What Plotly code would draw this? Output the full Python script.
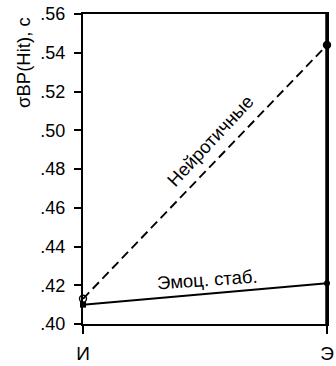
import plotly.graph_objects as go

# Conditions on the x axis
conditions = ["И", "Э"]
# Standard deviation of reaction time (Hit), seconds
neurotic = [0.413, 0.544]
stable = [0.410, 0.421]

y_ticks = [0.40, 0.42, 0.44, 0.46, 0.48, 0.50, 0.52, 0.54, 0.56]
y_tick_text = [".40", ".42", ".44", ".46", ".48", ".50", ".52", ".54", ".56"]

FONT = "Liberation Sans, Arial, sans-serif"
x_pos = list(range(len(conditions)))

fig = go.Figure()
fig.add_trace(go.Scatter(
    x=x_pos, y=neurotic, mode="lines+markers",
    line=dict(color="black", width=1.9, dash="9px,5px"),
    marker=dict(symbol=["circle-open", "circle"], size=7, color="black",
                line=dict(width=1.4, color="black")),
    cliponaxis=False, showlegend=False,
))
fig.add_trace(go.Scatter(
    x=x_pos, y=stable, mode="lines+markers",
    line=dict(color="black", width=2),
    marker=dict(symbol=["square", "circle"], size=6, color="black"),
    cliponaxis=False, showlegend=False,
))

fig.add_annotation(x=0.522, y=0.4947, text="Нейротичные", showarrow=False,
                   textangle=-47, font=dict(family=FONT, size=18.5, color="black"))
fig.add_annotation(x=0.512, y=0.4231, text="Эмоц. стаб.", showarrow=False,
                   textangle=-4, font=dict(family=FONT, size=18.5, color="black"))

# y-axis title, placed toward the top of the axis
fig.add_annotation(xref="paper", yref="paper", x=-0.245, y=0.843,
                   xanchor="center", yanchor="middle", text="σBP(Hit), c",
                   showarrow=False, textangle=-90,
                   font=dict(family=FONT, size=18.5, color="black"))

# heavier right-hand frame edge
fig.add_shape(type="line", xref="x", yref="paper", x0=1, x1=1, y0=0, y1=1,
              line=dict(color="black", width=3.5))

fig.update_xaxes(
    range=[0, 1], tickvals=x_pos, ticktext=conditions,
    showline=True, linecolor="black", linewidth=2, mirror=True,
    ticks="outside", ticklen=8, tickwidth=2, tickcolor="black",
    ticklabelstandoff=3,
    showgrid=False, zeroline=False, ticklabeloverflow="allow",
    tickfont=dict(family=FONT, size=19, color="black"),
)
fig.update_yaxes(
    range=[0.40, 0.56], tickvals=y_ticks, ticktext=y_tick_text,
    showline=True, linecolor="black", linewidth=2, mirror=True,
    ticks="outside", ticklen=7, tickwidth=2, tickcolor="black",
    ticklabelstandoff=5,
    showgrid=False, zeroline=False,
    tickfont=dict(family=FONT, size=18, color="black"),
)

fig.update_layout(
    width=336, height=366,
    margin=dict(l=83, r=2, t=14, b=26),
    plot_bgcolor="white", paper_bgcolor="white",
)

fig.write_html("out.html")
